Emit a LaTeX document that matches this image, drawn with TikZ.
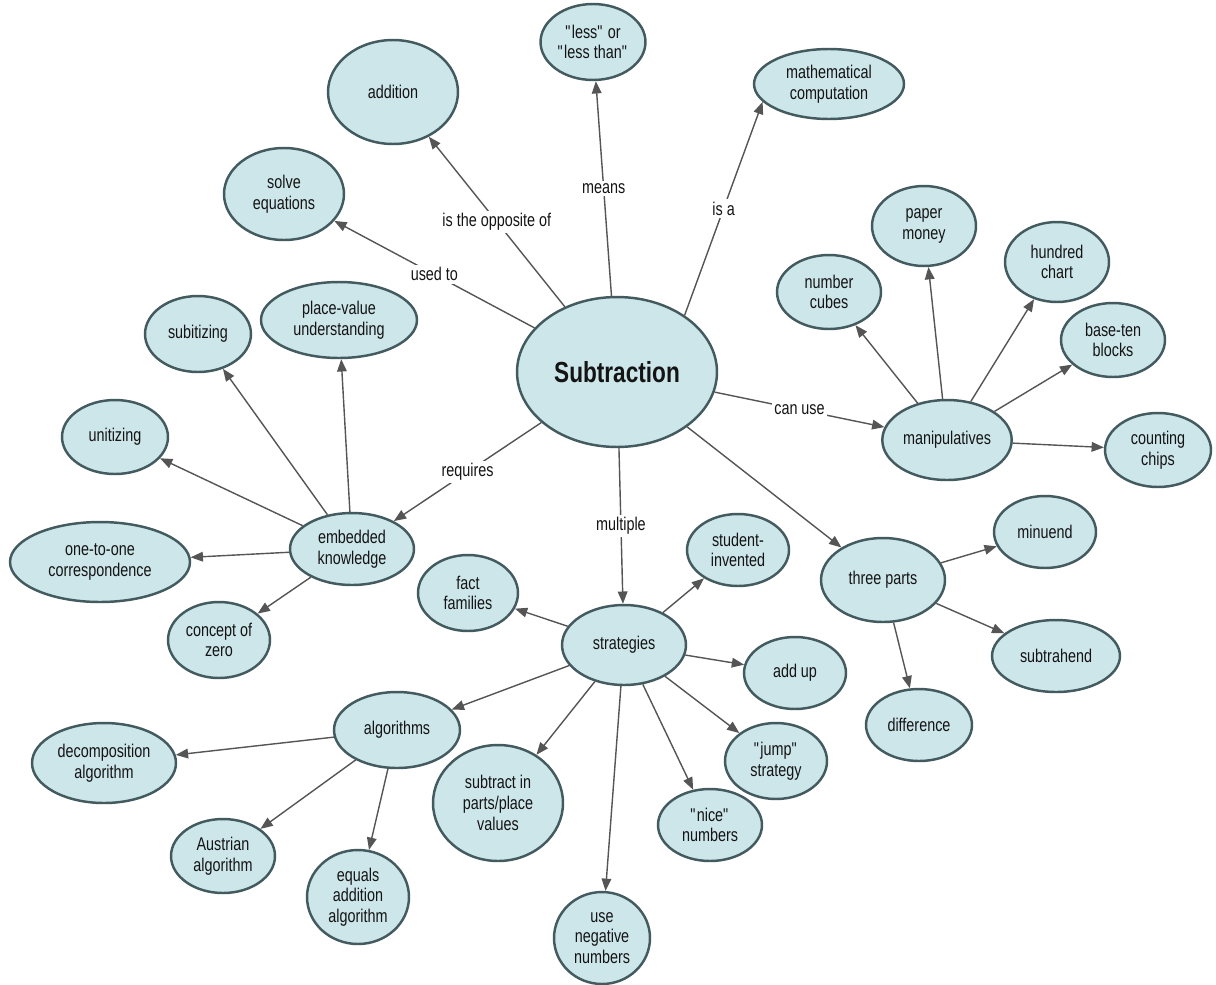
\documentclass[tikz,border=0pt]{standalone}
\usepackage{fontspec}
\setmainfont{Liberation Sans}[FakeStretch=0.78]
\usepackage{tikz}
\usetikzlibrary{shapes.geometric, arrows.meta}

\definecolor{conceptfill}{HTML}{CDE6EA}
\definecolor{conceptline}{HTML}{435B5F}
\definecolor{linkgray}{HTML}{555555}
\definecolor{textdark}{HTML}{141414}

\tikzset{
  concept/.style = {ellipse, draw = conceptline, line width = 1.4pt, fill = conceptfill, text = textdark, align = center, inner sep = 1pt},
  link/.style = {draw = linkgray, line width = 0.8pt, -{Triangle[length = 7pt, width = 5.5pt]}},
  lbl/.style = {fill = white, inner sep = 1.5pt, text = textdark}
}

\begin{document}
\begin{tikzpicture}[x = 0.02cm, y = -0.02cm, font = \fontsize{10.5}{11.8}\selectfont]
      \useasboundingbox (0, 0) rectangle (1216, 984);

      \node[concept, minimum width = 4cm, minimum height = 3cm, font = \fontsize{16.5}{18}\selectfont\bfseries] (sub) at (617, 372) {Subtraction};

      % top
      \node[concept, minimum width = 2cm, minimum height = 1.52cm] (less) at (593, 42) {\textquotedbl less\textquotedbl{} or\\\textquotedbl less than\textquotedbl};
      \node[concept, minimum width = 2.6cm, minimum height = 2.08cm] (addition) at (393, 92) {addition};
      \node[concept, minimum width = 3cm, minimum height = 1.4cm] (math) at (829, 84) {mathematical\\computation};
      \node[concept, minimum width = 2.4cm, minimum height = 1.84cm] (solve) at (284, 194) {solve\\equations};

      % manipulatives
      \node[concept, minimum width = 2.56cm, minimum height = 1.6cm] (manip) at (947, 440) {manipulatives};
      \node[concept, minimum width = 2.08cm, minimum height = 1.48cm] (cubes) at (829, 292) {number\\cubes};
      \node[concept, minimum width = 2.08cm, minimum height = 1.6cm] (money) at (924, 226) {paper\\money};
      \node[concept, minimum width = 2.08cm, minimum height = 1.6cm] (chart) at (1057, 262) {hundred\\chart};
      \node[concept, minimum width = 2.08cm, minimum height = 1.48cm] (blocks) at (1113, 340) {base-ten\\blocks};
      \node[concept, minimum width = 2.12cm, minimum height = 1.48cm] (chips) at (1158, 450) {counting\\chips};

      % embedded knowledge
      \node[concept, minimum width = 2.48cm, minimum height = 1.44cm] (embedded) at (352, 549) {embedded\\knowledge};
      \node[concept, minimum width = 2.12cm, minimum height = 1.52cm] (subitizing) at (198, 334) {subitizing};
      \node[concept, minimum width = 3.12cm, minimum height = 1.52cm] (placevalue) at (339, 320) {place-value\\understanding};
      \node[concept, minimum width = 2.12cm, minimum height = 1.48cm] (unitizing) at (115, 437) {unitizing};
      \node[concept, minimum width = 3.6cm, minimum height = 1.6cm] (onetoone) at (100, 562) {one-to-one\\correspondence};
      \node[concept, minimum width = 2.04cm, minimum height = 1.52cm] (zero) at (219, 640) {concept of\\zero};

      % strategies
      \node[concept, minimum width = 2.48cm, minimum height = 1.6cm] (strategies) at (624, 645) {strategies};
      \node[concept, minimum width = 2cm, minimum height = 1.52cm] (fact) at (468, 593) {fact\\families};
      \node[concept, minimum width = 2.04cm, minimum height = 1.44cm] (student) at (738, 550) {student-\\invented};
      \node[concept, minimum width = 2.04cm, minimum height = 1.44cm] (addup) at (795, 673) {add up};
      \node[concept, minimum width = 2.04cm, minimum height = 1.52cm] (jump) at (776, 761) {\textquotedbl jump\textquotedbl\\strategy};
      \node[concept, minimum width = 2.08cm, minimum height = 1.44cm] (nice) at (710, 825) {\textquotedbl nice\textquotedbl\\numbers};
      \node[concept, minimum width = 1.92cm, minimum height = 1.84cm] (negative) at (602, 938) {use\\negative\\numbers};
      \node[concept, minimum width = 2.6cm, minimum height = 2.32cm] (parts) at (498, 803) {subtract in\\parts/place\\values};
      \node[concept, minimum width = 2.52cm, minimum height = 1.52cm] (algorithms) at (397, 730) {algorithms};
      \node[concept, minimum width = 2.88cm, minimum height = 1.6cm] (decomp) at (104, 763) {decomposition\\algorithm};
      \node[concept, minimum width = 2.08cm, minimum height = 1.48cm] (austrian) at (223, 856) {Austrian\\algorithm};
      \node[concept, minimum width = 2.04cm, minimum height = 1.88cm] (equals) at (358, 897) {equals\\addition\\algorithm};

      % three parts
      \node[concept, minimum width = 2.48cm, minimum height = 1.68cm] (three) at (883, 580) {three parts};
      \node[concept, minimum width = 2.04cm, minimum height = 1.44cm] (minuend) at (1045, 532) {minuend};
      \node[concept, minimum width = 2.56cm, minimum height = 1.44cm] (subtrahend) at (1056, 656) {subtrahend};
      \node[concept, minimum width = 2.12cm, minimum height = 1.44cm] (difference) at (919, 725) {difference};

      % links
      \draw (sub) edge[link] node[lbl] {is the opposite of} (addition);
      \draw (sub) edge[link] node[lbl] {means} (less);
      \draw (sub.40) edge[link] node[lbl] {is a} (math.195);
      \draw (sub) edge[link] node[lbl] {used to} (solve);
      \draw (sub) edge[link] node[lbl] {can use} (manip);
      \draw (sub) edge[link] node[lbl] {requires} (embedded);
      \draw (sub) edge[link] node[lbl] {multiple} (strategies);
      \draw (sub) edge[link] (three);

      \draw (manip) edge[link] (cubes);
      \draw (manip) edge[link] (money);
      \draw (manip) edge[link] (chart);
      \draw (manip) edge[link] (blocks);
      \draw (manip) edge[link] (chips);

      \draw (embedded) edge[link] (subitizing);
      \draw (embedded) edge[link] (placevalue);
      \draw (embedded) edge[link] (unitizing);
      \draw (embedded) edge[link] (onetoone);
      \draw (embedded) edge[link] (zero);

      \draw (strategies) edge[link] (fact);
      \draw (strategies) edge[link] (student);
      \draw (strategies) edge[link] (addup);
      \draw (strategies) edge[link] (jump);
      \draw (strategies) edge[link] (nice);
      \draw (strategies) edge[link] (negative);
      \draw (strategies) edge[link] (parts);
      \draw (strategies) edge[link] (algorithms);

      \draw (algorithms) edge[link] (decomp);
      \draw (algorithms) edge[link] (austrian);
      \draw (algorithms) edge[link] (equals);

      \draw (three) edge[link] (minuend);
      \draw (three) edge[link] (subtrahend);
      \draw (three) edge[link] (difference);
    \end{tikzpicture}
\end{document}
